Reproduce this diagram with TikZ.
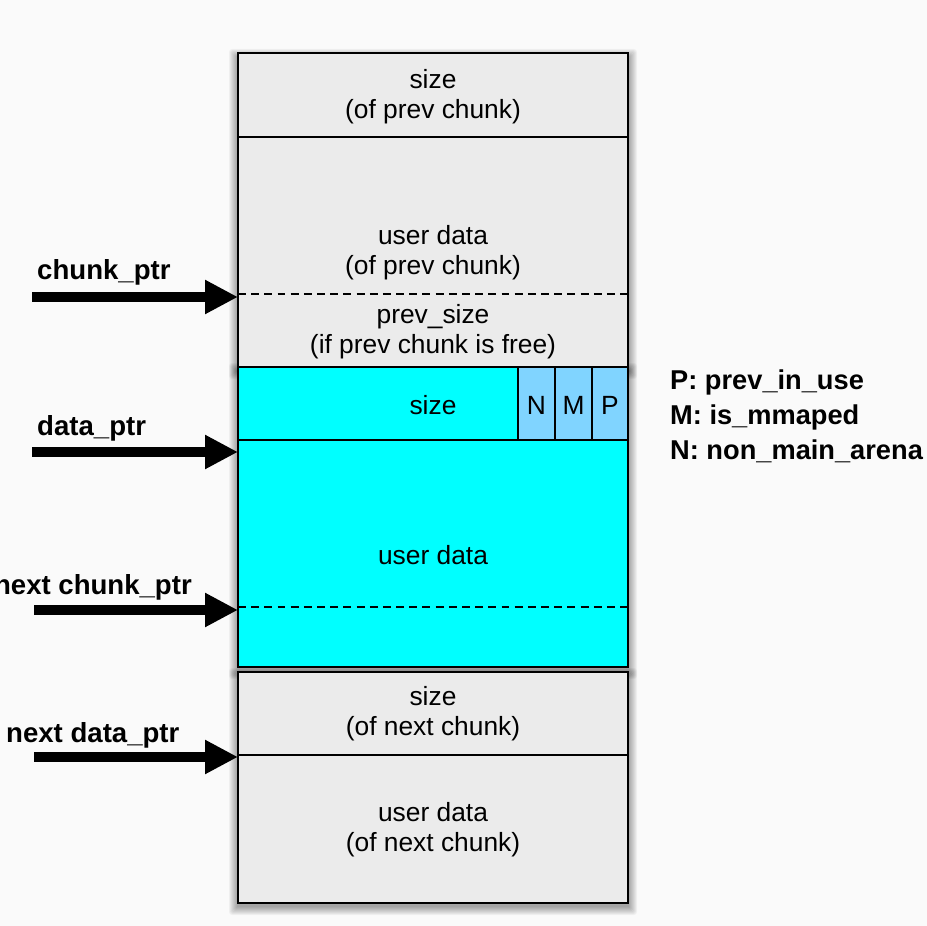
\documentclass[tikz,border=0pt]{standalone}
\usepackage{fontspec}
\setmainfont{Liberation Sans}
\usetikzlibrary{arrows.meta}

\definecolor{pagegray}{HTML}{FAFAFA}
\definecolor{chunkgray}{HTML}{EBEBEB}
\definecolor{chunkcyan}{HTML}{00FFFF}
\definecolor{flagblue}{HTML}{80D4FF}

\tikzset{
    chunk/.style={draw=black, line width=1.2pt, fill=chunkgray},
    divider/.style={line width=1.2pt},
    dashdiv/.style={line width=1.2pt, dash pattern=on 4.5pt off 3pt},
    field/.style={align=center, font=\fontsize{15}{17}\selectfont},
    ptr/.style={line width=0.2cm, -{Triangle[length=0.66cm, width=0.64cm]}},
    ptrlabel/.style={font=\fontsize{15.7}{18}\selectfont\bfseries},
}

% soft shadow under a box: #1 top, #2 bottom
\newcommand{\boxshadow}[2]{%
    \foreach \r in {1,...,9}
        \fill[black, opacity=0.045, rounded corners=\r*0.2]
            (238-\r, #1-\r+5) rectangle (628+\r, #2+\r+3);
}

\begin{document}
\begin{tikzpicture}[x=0.02cm, y=-0.02cm]
    \fill[pagegray] (0, 0) rectangle (927, 926);
    \useasboundingbox (0, 0) rectangle (927, 926);

    % shadows
    \boxshadow{53}{367}
    \boxshadow{367}{667}
    \boxshadow{672}{903}

    % previous chunk
    \draw[chunk] (238, 53) rectangle (628, 367);
    \draw[divider] (238, 137) -- (628, 137);
    \draw[dashdiv] (238, 294) -- (628, 294);
    \node[field] (prevsize) at (433, 97) {size\\(of prev chunk)};
    \node[field] (prevdata) at (433, 253) {user data\\(of prev chunk)};
    \node[field] (prevfree) at (433, 332) {prev\_size\\(if prev chunk is free)};

    % current chunk
    \draw[chunk, fill=chunkcyan] (238, 367) rectangle (628, 667);
    \draw[divider] (238, 440) -- (628, 440);
    \draw[divider, fill=flagblue] (518, 367) rectangle (628, 440);
    \draw[divider] (555, 367) -- (555, 440);
    \draw[divider] (592, 367) -- (592, 440);
    \draw[dashdiv] (238, 607) -- (628, 607);
    \node[field] (cursize) at (433, 405) {size};
    \node[field] (flagN) at (536.5, 405) {N};
    \node[field] (flagM) at (573.5, 405) {M};
    \node[field] (flagP) at (610, 405) {P};
    \node[field] (curdata) at (433, 555) {user data};

    % next chunk
    \draw[chunk] (238, 672) rectangle (628, 903);
    \draw[divider] (238, 755) -- (628, 755);
    \node[field] (nextsize) at (433, 714) {size\\(of next chunk)};
    \node[field] (nextdata) at (433, 830) {user data\\(of next chunk)};

    % flag legend
    \node[anchor=west, align=left,
        font=\fontsize{15.5}{20}\selectfont\bfseries] (legend) at (664, 416)
        {P: prev\_in\_use\\M: is\_mmaped\\N: non\_main\_arena};

    % pointers
    \coordinate (cpfrom) at (32, 297);
    \coordinate (cpto) at (238, 297);
    \coordinate (dpfrom) at (32, 452);
    \coordinate (dpto) at (238, 452);
    \coordinate (ncpfrom) at (34, 610);
    \coordinate (ncpto) at (238, 610);
    \coordinate (ndpfrom) at (34, 757);
    \coordinate (ndpto) at (238, 757);
    \draw[ptr] (cpfrom) -- (cpto);
    \draw[ptr] (dpfrom) -- (dpto);
    \draw[ptr] (ncpfrom) -- (ncpto);
    \draw[ptr] (ndpfrom) -- (ndpto);
    \node[ptrlabel, anchor=west] (cplabel) at (31, 272) {chunk\_ptr};
    \node[ptrlabel, anchor=west] (dplabel) at (31, 428) {data\_ptr};
    \node[ptrlabel, anchor=east] (ncplabel) at (198, 587) {next chunk\_ptr};
    \node[ptrlabel, anchor=west] (ndplabel) at (0, 735) {next data\_ptr};
\end{tikzpicture}
\end{document}
